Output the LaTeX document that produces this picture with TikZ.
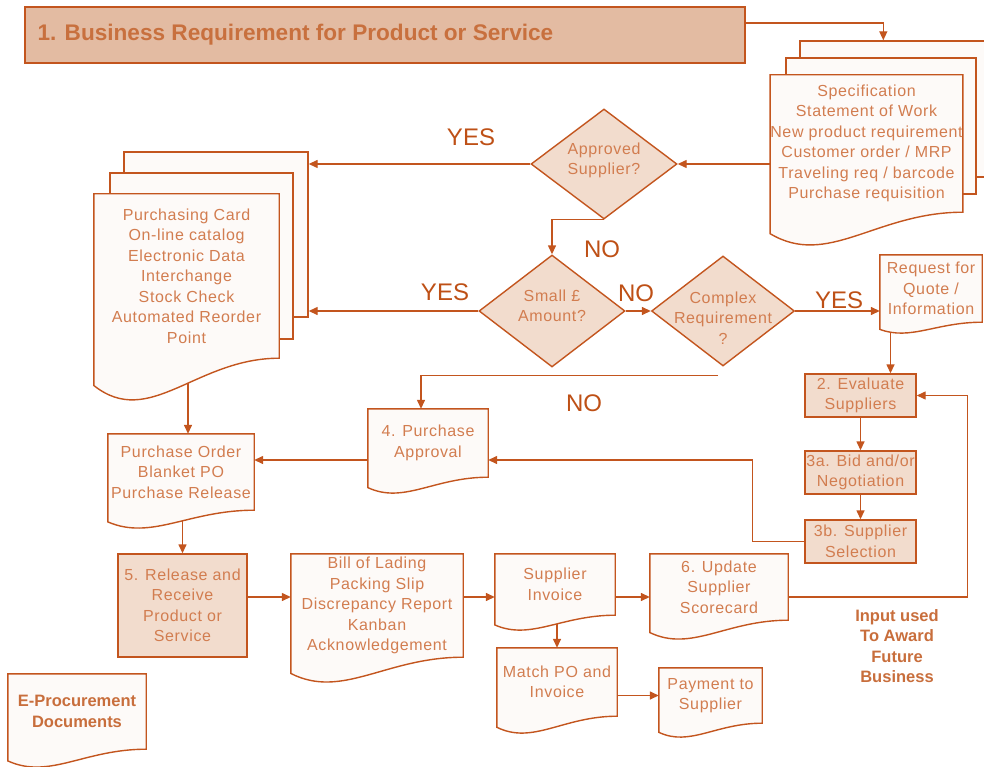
\documentclass[tikz,border=0pt]{standalone}
\usepackage{fontspec}
\setmainfont{Liberation Sans}
\newfontfamily\bodyf[LetterSpace=4]{Liberation Sans}
\usetikzlibrary{shapes.geometric,arrows.meta,calc}
\definecolor{lineC}{RGB}{195,85,30}
\definecolor{textC}{RGB}{210,125,80}
\definecolor{boldC}{RGB}{200,110,60}
\definecolor{headF}{RGB}{227,187,162}
\definecolor{headT}{RGB}{200,112,62}
\definecolor{procF}{RGB}{242,220,205}
\definecolor{docF}{RGB}{253,250,248}
\definecolor{ynC}{RGB}{190,80,22}
\pgfdeclarelayer{bg}\pgfdeclarelayer{mid}\pgfsetlayers{bg,mid,main}
\newcommand\docout[2]{\path[docsty] (#1.north west) -- (#1.north east) -- (#1.south east)
  .. controls ($(#1.south west)!0.55!(#1.south east)$) and ($(#1.south west)!0.3!(#1.south east)+(0,1.7*#2)$) .. ($(#1.south west)+(0,0.65*#2)$) -- cycle;}
\begin{document}
\begin{tikzpicture}[x=1pt,y=-1pt,
  conn/.style={draw=lineC,line width=1.4pt},
  arr/.style={conn,-{Triangle[length=9pt,width=8pt]}},
  txt/.style={text=textC,font=\bodyf\fontsize{16}{20.5}\selectfont,align=center,inner sep=0pt},
  boldtxt/.style={text=boldC,font=\bfseries\fontsize{16.5}{20.5}\selectfont,align=center,inner sep=0pt},
  yn/.style={text=ynC,font=\fontsize{24}{28}\selectfont,inner sep=0pt},
  docn/.style={txt},
  docsty/.style={draw=lineC,fill=docF,line width=1.4pt},
  pagesty/.style={draw=lineC,fill=docF,line width=1.4pt,inner sep=0pt},
  proc/.style={txt,draw=lineC,fill=procF,line width=1.4pt},
  dia/.style={diamond,draw=lineC,fill=procF,line width=1.4pt,inner sep=0pt}]
\useasboundingbox (0,0) rectangle (984,767);

% header
\node[draw=lineC,fill=headF,line width=1.4pt,minimum width=720pt,minimum height=56pt,inner sep=0pt] (head) at (385,35) {};
\node[anchor=west,text=headT,font=\bfseries\fontsize{22.6}{26}\selectfont,inner sep=0pt] (headtxt) at ([xshift=13pt]head.west) {1. Business Requirement for Product or Service};

% document text nodes
\node[docn,minimum width=191pt,minimum height=137pt] (spec) at (866.5,143.5) {Specification\\Statement of Work\\New product requirement\\Customer order / MRP\\Traveling req / barcode\\Purchase requisition};
\node[docn,minimum width=185pt,minimum height=164pt] (lfront) at (186.5,276) {Purchasing Card\\On-line catalog\\Electronic Data\\Interchange\\Stock Check\\Automated Reorder\\Point};
\node[docn,minimum width=102pt,minimum height=67pt] (rfq) at (931,288.5) {Request for\\Quote /\\Information};
\node[docn,minimum width=120pt,minimum height=68pt] (pa) at (428,443) {4. Purchase\\Approval};
\node[docn,minimum width=146pt,minimum height=76pt] (po) at (181,472) {Purchase Order\\Blanket PO\\Purchase Release};
\node[docn,minimum width=172pt,minimum height=103pt] (bol) at (377,605.5) {Bill of Lading\\Packing Slip\\Discrepancy Report\\Kanban\\Acknowledgement};
\node[docn,minimum width=120pt,minimum height=61pt] (inv) at (555,584.5) {Supplier\\Invoice};
\node[docn,minimum width=138pt,minimum height=66pt] (score) at (719,587) {6. Update\\Supplier\\Scorecard};
\node[docn,minimum width=120pt,minimum height=68pt] (match) at (557,682) {Match PO and\\Invoice};
\node[docn,minimum width=103pt,minimum height=55pt] (pay) at (710.5,695.5) {Payment to\\Supplier};
\node[boldtxt,minimum width=138pt,minimum height=75pt] (eproc) at (77,711.5) {E-Procurement\\Documents};

% process boxes
\node[proc,minimum width=111pt,minimum height=43pt] (eval) at (860.5,395.5) {2. Evaluate\\Suppliers};
\node[proc,minimum width=111pt,minimum height=43pt] (bid) at (860.5,472.5) {3a. Bid and/or\\Negotiation};
\node[proc,minimum width=111pt,minimum height=43pt] (sel) at (860.5,541.5) {3b. Supplier\\Selection};
\node[proc,minimum width=129pt,minimum height=103pt] (rel) at (182.5,605.5) {5. Release and\\Receive\\Product or\\Service};

% diamonds
\node[dia,minimum width=146pt,minimum height=110pt] (appr) at (604,164) {};
\node[txt] (apprtxt) at (604,160.5) {Approved\\Supplier?};
\node[dia,minimum width=146pt,minimum height=112pt] (small) at (552,311) {};
\node[txt] (smalltxt) at (552,306) {Small £\\Amount?};
\node[dia,minimum width=143pt,minimum height=110pt] (cplx) at (723,311) {};
\node[txt] (cplxtxt) at (723,318) {Complex\\Requirement\\?};

% input used
\node[boldtxt] (inp) at (897,646) {Input used\\To Award\\Future\\Business};

% labels
\node[yn] (yes1) at (471,137) {YES};
\node[yn] (no1) at (602,249) {NO};
\node[yn] (yes2) at (445,292) {YES};
\node[yn] (no2) at (636,293) {NO};
\node[yn] (yes3) at (839,300) {YES};
\node[yn] (no3) at (584,403) {NO};

% shapes layer
\begin{pgfonlayer}{mid}
\node[pagesty,minimum width=200pt,minimum height=136pt] (specback) at (900,109) {};
\node[pagesty,minimum width=190pt,minimum height=136pt] (specmid) at (881,126) {};
\docout{spec}{33}
\node[pagesty,minimum width=184pt,minimum height=165pt] (lback) at (216,234.5) {};
\node[pagesty,minimum width=183pt,minimum height=166pt] (lmid) at (201.5,256) {};
\docout{lfront}{42}
\docout{rfq}{11}
\docout{pa}{16}
\docout{po}{18}
\docout{bol}{25}
\docout{inv}{15}
\docout{score}{19}
\docout{match}{17}
\docout{pay}{14}
\docout{eproc}{18}
\end{pgfonlayer}

% connectors
\begin{pgfonlayer}{bg}
\coordinate (rowy) at (0,597);
\draw[arr] ([yshift=12pt]head.east) -| ([xshift=84pt]specback.north west);
\draw[arr] (spec.west |- appr.east) -- (appr.east);
\draw[arr] (appr.west) -- (appr.west -| lback.east);
\draw[arr] (appr.south) -| (small.north);
\draw[arr] (small.west) -- (small.west -| lback.east);
\draw[arr] (small.east) -- (cplx.west);
\draw[arr] (cplx.east) -- (cplx.east -| rfq.west);
\coordinate (evin) at ([xshift=30pt]eval.north);
\draw[arr] (rfq.south -| evin) -- (evin);
\draw[arr] (eval.south) -- (bid.north);
\draw[arr] (bid.south) -- (sel.north);
\draw[arr] (sel.west) -- ++(-52,0) |- ([yshift=-17pt]pa.east);
\coordinate (cno) at ([xshift=-5pt,yshift=-9pt]cplx.south);
\draw[arr] (cno) -| ([xshift=-7pt]pa.north);
\coordinate (paw) at ([yshift=-17pt]pa.west);
\draw[arr] (paw) -- (paw -| po.east);
\coordinate (poin) at ([xshift=7pt]po.north);
\draw[arr] (lfront.south -| poin) -- (poin);
\draw[arr] (po.south -| rel.north) -- (rel.north);
\draw[arr] (rel.east |- rowy) -- (bol.west |- rowy);
\draw[arr] (bol.east |- rowy) -- (inv.west |- rowy);
\draw[arr] (inv.east |- rowy) -- (score.west |- rowy);
\draw[arr] (inv.south -| match.north) -- (match.north);
\draw[arr] (match.east |- pay.west) -- (pay.west);
\draw[arr] (score.east |- rowy) -| ([xshift=51pt]eval.east) -- (eval.east);
\end{pgfonlayer}
\end{tikzpicture}
\end{document}
